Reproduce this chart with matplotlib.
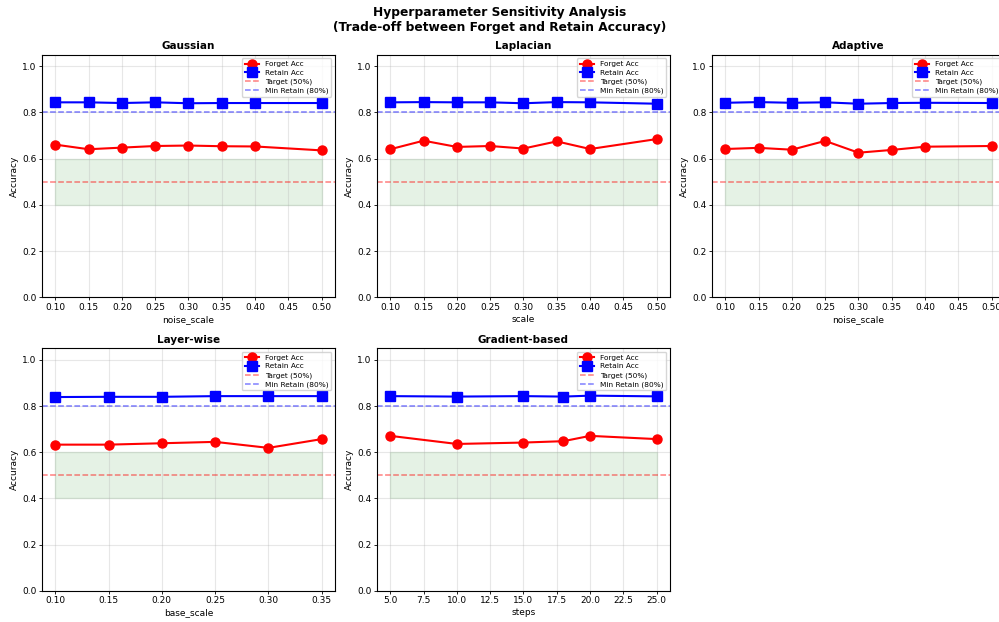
import numpy as np
import matplotlib
matplotlib.use("Agg")
import matplotlib.pyplot as plt

# values
methods = ["Gaussian", "Laplacian", "Adaptive", "Layer-wise", "Gradient-based"]
xlabels = ["noise_scale", "scale", "noise_scale", "base_scale", "steps"]

gauss_x = [0.10, 0.15, 0.20, 0.25, 0.30, 0.35, 0.40, 0.50]
gauss_forget = [0.661, 0.641, 0.648, 0.655, 0.657, 0.654, 0.653, 0.636]
gauss_retain = [0.844, 0.844, 0.841, 0.844, 0.840, 0.841, 0.841, 0.841]

lap_x = [0.10, 0.15, 0.20, 0.25, 0.30, 0.35, 0.40, 0.50]
lap_forget = [0.641, 0.678, 0.651, 0.655, 0.644, 0.675, 0.642, 0.685]
lap_retain = [0.844, 0.845, 0.844, 0.844, 0.840, 0.845, 0.844, 0.838]

adapt_x = [0.10, 0.15, 0.20, 0.25, 0.30, 0.35, 0.40, 0.50]
adapt_forget = [0.642, 0.647, 0.639, 0.677, 0.626, 0.638, 0.652, 0.655]
adapt_retain = [0.842, 0.845, 0.842, 0.844, 0.838, 0.841, 0.842, 0.841]

layer_x = [0.10, 0.15, 0.20, 0.25, 0.30, 0.35]
layer_forget = [0.633, 0.633, 0.639, 0.645, 0.619, 0.657]
layer_retain = [0.839, 0.840, 0.840, 0.843, 0.843, 0.843]

grad_x = [5, 10, 15, 18, 20, 25]
grad_forget = [0.671, 0.636, 0.642, 0.648, 0.671, 0.657]
grad_retain = [0.843, 0.841, 0.843, 0.841, 0.845, 0.842]

all_x = [gauss_x, lap_x, adapt_x, layer_x, grad_x]
all_forget = [gauss_forget, lap_forget, adapt_forget, layer_forget, grad_forget]
all_retain = [gauss_retain, lap_retain, adapt_retain, layer_retain, grad_retain]

fig, axes = plt.subplots(2, 3, figsize=(9.99, 6.22), dpi=100)
fig.subplots_adjust(left=0.042, right=1.006, top=0.912, bottom=0.050,
                    wspace=0.143, hspace=0.21)
fig.suptitle("Hyperparameter Sensitivity Analysis\n(Trade-off between Forget and Retain Accuracy)",
             fontsize=8.8, fontweight="bold", y=0.99)

for i in range(5):
    ax = axes.flat[i]
    x = all_x[i]
    ax.plot(x, all_forget[i], "o-", color="red", lw=1.5, ms=6.5, label="Forget Acc")
    ax.plot(x, all_retain[i], "s-", color="blue", lw=1.5, ms=6.5, label="Retain Acc")
    ax.axhline(0.5, color="red", ls="--", lw=1.1, alpha=0.5, label="Target (50%)")
    ax.axhline(0.8, color="blue", ls="--", lw=1.1, alpha=0.5, label="Min Retain (80%)")
    ax.fill_between(x, 0.4, 0.6, color="green", alpha=0.1)
    ax.set_ylim(0, 1.05)
    ax.set_title(methods[i], fontsize=7.5, fontweight="bold", pad=4)
    ax.set_xlabel(xlabels[i], fontsize=6.5, labelpad=2)
    ax.set_ylabel("Accuracy", fontsize=6.5, labelpad=2)
    ax.tick_params(labelsize=6.5, length=2, width=0.6, pad=2)
    ax.grid(True, alpha=0.3)
    ax.legend(fontsize=5.3, loc="upper right", borderpad=0.35, labelspacing=0.35)

axes.flat[5].axis("off")

plt.savefig("out.png", dpi=100)
